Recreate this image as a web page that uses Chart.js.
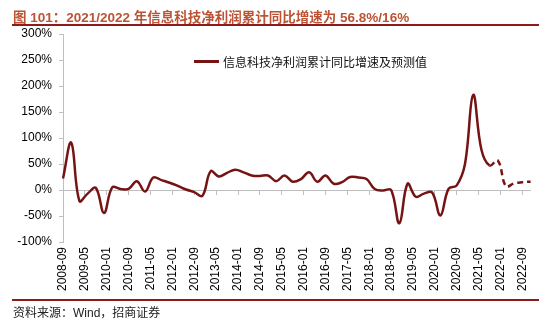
<!DOCTYPE html>
<html>
<head>
<meta charset="utf-8">
<script src="https://cdn.jsdelivr.net/npm/chart.js@4/dist/chart.umd.min.js"></script>
<style>
  body { margin: 0; background: #fff; font-family: "Liberation Sans", "Noto Sans CJK SC", sans-serif; }
  #wrap { position: relative; width: 550px; height: 323px; overflow: hidden; }
  #grafico { position: absolute; left: 0; top: 0; }
  .titulo { position: absolute; left: 13px; top: 6px; font-size: 13.5px; font-weight: bold; color: #bb5334; white-space: nowrap; }
  .raya { position: absolute; left: 12px; width: 527px; height: 2px; background: #8e1a1a; }
  .fuente { position: absolute; left: 13px; top: 303px; font-size: 12px; color: #222; white-space: nowrap; }
  .leyenda { position: absolute; left: 194px; top: 53px; font-size: 12px; color: #111; white-space: nowrap; display: flex; align-items: center; font-family: "Noto Sans CJK SC", sans-serif; }
  .leyenda span.linea { display: inline-block; width: 25px; height: 2.5px; background: #761414; margin-right: 4px; }
</style>
</head>
<body>
<div id="wrap">
  <canvas id="grafico" width="550" height="323"></canvas>
  <div class="titulo">图 101：2021/2022 年信息科技净利润累计同比增速为 56.8%/16%</div>
  <div class="raya" style="top:24px"></div>
  <div class="leyenda"><span class="linea"></span><span id="leyendaTexto"></span></div>
  <div class="raya" style="top:299px"></div>
  <div class="fuente">资料来源：Wind，招商证券</div>
</div>
<script>
// fechas trimestrales (cierre de trimestre)
const trimestres = [
  '2008-09', '2008-12',
  '2009-03', '2009-06', '2009-09', '2009-12',
  '2010-03', '2010-06', '2010-09', '2010-12',
  '2011-03', '2011-06', '2011-09', '2011-12',
  '2012-03', '2012-06', '2012-09', '2012-12',
  '2013-03', '2013-06', '2013-09', '2013-12',
  '2014-03', '2014-06', '2014-09', '2014-12',
  '2015-03', '2015-06', '2015-09', '2015-12',
  '2016-03', '2016-06', '2016-09', '2016-12',
  '2017-03', '2017-06', '2017-09', '2017-12',
  '2018-03', '2018-06', '2018-09', '2018-12',
  '2019-03', '2019-06', '2019-09', '2019-12',
  '2020-03', '2020-06', '2020-09', '2020-12',
  '2021-03', '2021-06', '2021-09',
  '2021-12', '2022-03', '2022-06', '2022-09', '2022-12'
];

// valores reales (%), 2008-09 .. 2021-09
const reales = [
  22, 91,
  -21, -7, 4, -44,
  5, 2, 2, 17,
  -3, 24, 19, 14,
  8, 1, -4, -11,
  36, 26, 33, 39,
  34, 28, 27, 28,
  17, 28, 16, 21,
  34, 16, 28, 12,
  15, 25, 24, 21,
  2, -1, 0, -64,
  12, -13, -7, -5,
  -49, 2, 9, 50,
  183, 78, 47
];

// valores de prediccion (%), 2021-12 .. 2022-12
const prediccion = [56.8, 7, 13, 15, 16];

const etiquetasVisibles = [
  '2008-09', '2009-05', '2010-01', '2010-09', '2011-05', '2012-01', '2012-09',
  '2013-05', '2014-01', '2014-09', '2015-05', '2016-01', '2016-09', '2017-05',
  '2018-01', '2018-09', '2019-05', '2020-01', '2020-09', '2021-05', '2022-01', '2022-09'
];

const yTicks = [-100, -50, 0, 50, 100, 150, 200, 250, 300];
const nombreSerie = '信息科技净利润累计同比增速及预测值';

// eje mensual 2008-09 .. 2022-12
const meses = [];
for (let a = 2008, m = 9; a < 2023; ) {
  meses.push(a + '-' + String(m).padStart(2, '0'));
  m++;
  if (m > 12) { m = 1; a++; }
}

const valores = reales.concat(prediccion);
const puntos = trimestres.map((t, i) => ({ x: t, y: valores[i] }));
const inicioPred = reales.length - 1;

document.querySelector('#leyendaTexto').textContent = nombreSerie;

Chart.defaults.font.family = "'Liberation Sans', Arial, sans-serif";
Chart.defaults.font.size = 12;
Chart.defaults.color = '#000';

const gris = '#bfbfbf';

new Chart('grafico', {
  type: 'line',
  data: {
    labels: meses,
    datasets: [{
      label: nombreSerie,
      data: puntos,
      borderColor: '#761414',
      borderWidth: 2.5,
      pointRadius: 0,
      tension: 0.4,
      fill: false,
      segment: {
        borderDash: ctx => ctx.p0DataIndex >= inicioPred ? [6, 4] : undefined
      }
    }]
  },
  options: {
    responsive: false,
    animation: false,
    devicePixelRatio: 1,
    layout: { padding: { top: 34, right: 15, bottom: 25, left: 0 } },
    plugins: {
      legend: { display: false },
      tooltip: { enabled: false }
    },
    scales: {
      x: {
        type: 'category',
        position: 'bottom',
        offset: false,
        grid: { display: false, drawTicks: false },
        border: { display: false },
        ticks: {
          autoSkip: false,
          minRotation: 90,
          maxRotation: 90,
          padding: 5,
          callback: (v, i) => etiquetasVisibles.includes(meses[i]) ? meses[i] : ''
        },
        afterFit: scale => { scale.height = 56; }
      },
      x2: {
        type: 'category',
        position: { y: 0 },
        offset: false,
        grid: {
          drawOnChartArea: false,
          drawTicks: true,
          tickLength: 4,
          color: ctx => etiquetasVisibles.includes(meses[ctx.index]) ? gris : 'rgba(0,0,0,0)'
        },
        border: { display: true, color: gris, width: 1 },
        ticks: { display: false, autoSkip: false }
      },
      y: {
        min: -100,
        max: 300,
        afterBuildTicks: scale => { scale.ticks = yTicks.map(v => ({ value: v })); },
        grid: { drawOnChartArea: false, tickLength: 4, color: gris },
        border: { color: gris, width: 1 },
        ticks: { padding: 7, callback: v => v + '%' },
        afterFit: scale => { scale.width = 63; }
      }
    }
  }
});
</script>
</body>
</html>
